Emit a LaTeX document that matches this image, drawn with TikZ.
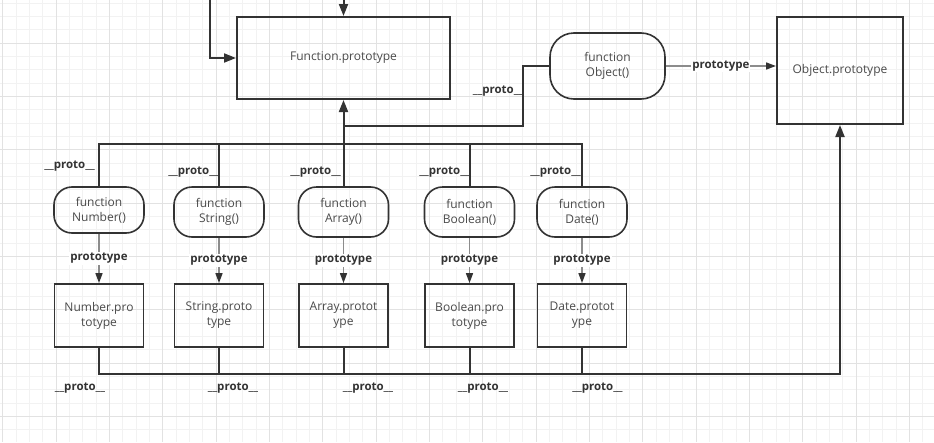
\documentclass[tikz,border=0pt]{standalone}
\usepackage{fontspec}
\setmainfont{Open Sans}
\usepackage{tikz}
\usetikzlibrary{arrows.meta,positioning}
\definecolor{linedark}{HTML}{333333}
\definecolor{linegray}{HTML}{8C8C8C}
\definecolor{textgray}{HTML}{4A4A4A}
\definecolor{gridminor}{HTML}{F2F2F2}
\definecolor{gridmajor}{HTML}{E2E2E2}

\begin{document}
\begin{tikzpicture}[x=1pt,y=-1pt]
        \tikzstyle{func node}=[draw=linedark,line width=1.6pt,rounded corners=18pt,minimum width=90pt,minimum height=50pt,align=center,text=textgray,font=\fontsize{12}{15}\selectfont,node distance=103.5pt]
        \tikzstyle{proto box}=[draw=linedark,line width=1.8pt,minimum width=89pt,minimum height=63pt,align=center,text=textgray,font=\fontsize{12}{15}\selectfont]
        \tikzstyle{big box}=[proto box,line width=2pt]
        \tikzstyle{edge label}=[fill=white,inner sep=1pt,text=linedark,font=\bfseries\fontsize{11.5}{14}\selectfont]
        \tikzstyle{thick line}=[draw=linedark,line width=2pt]
        \tikzstyle{thick arrow}=[thick line,-{Triangle[length=12pt,width=9pt]}]
        \tikzstyle{gray arrow}=[draw=linegray,line width=1.5pt,-{Triangle[length=10pt,width=7pt,color=linedark]}]

        \useasboundingbox (0,0) rectangle (934,442);
        % background and grid
        \begin{scope}
            \clip (0,0) rectangle (934,442);
            \fill[white] (0,0) rectangle (934,442);
            \foreach \gx in {0,...,70} \draw[gridminor,line width=0.8pt] ({2.67+13.333*\gx},0) -- ({2.67+13.333*\gx},442);
            \foreach \gy in {0,...,33} \draw[gridminor,line width=0.8pt] (0,{3.2+13.333*\gy}) -- (934,{3.2+13.333*\gy});
            \foreach \gx in {0,...,17} \draw[gridmajor,line width=0.8pt] ({2.67+53.333*\gx},0) -- ({2.67+53.333*\gx},442);
            \foreach \gy in {0,...,8} \draw[gridmajor,line width=0.8pt] (0,{43.2+53.333*\gy}) -- (934,{43.2+53.333*\gy});
        \end{scope}

        \node[big box,minimum width=213pt,minimum height=82pt] (FP) at (343.5,58) {Function.prototype};
        \node[func node,minimum width=115pt,minimum height=66pt,rounded corners=24pt] (Obj) at (607.5,66) {function\\Object()};
        \node[big box,minimum width=126pt,minimum height=107pt] (OP) at (840,70.5) {Object.prototype};

        \node[func node,minimum height=46pt] (Number) at (99,210) {function\\Number()};
        \node[func node] (String) at (219,212) {function\\String()};
        \node[func node] (Array) at (343.5,212) {function\\Array()};
        \node[func node] (Boolean) at (469.5,212) {function\\Boolean()};
        \node[func node] (Date) at (582,212) {function\\Date()};

        \node[proto box] (NumberP) [below of=Number,node distance=105.5pt] {Number.pro\\totype};
        \node[proto box] (StringP) [below of=String,node distance=103.5pt] {String.proto\\type};
        \node[proto box] (ArrayP) [below of=Array,node distance=103.5pt] {Array.protot\\ype};
        \node[proto box] (BooleanP) [below of=Boolean,node distance=103.5pt] {Boolean.pro\\totype};
        \node[proto box] (DateP) [below of=Date,node distance=103.5pt] {Date.protot\\ype};

        \coordinate (topin) at (343.5,0);
        \coordinate (leftin) at (210,0);
        \coordinate (objturn) at (523,125.7);
        \coordinate (topbus) at (0,143.7);
        \coordinate (botbus) at (0,373.7);

        \draw[thick arrow] (topin) -- (FP.north);
        \draw[thick arrow] (leftin) |- (FP.west);
        \draw[thick line] (Obj.west) -| (objturn) -- (objturn -| FP.south);
        \draw[gray arrow] (Obj.east) -- node[edge label] {prototype} (Obj.east -| OP.west);

        \draw[thick line] (Number.north) |- (topbus -| Date.north) -- (Date.north);
        \foreach \fn in {String,Boolean}
            \draw[thick line] (\fn.north) -- (\fn.north |- topbus);
        \draw[thick arrow] (Array.north) -- (FP.south);

        \foreach \fn in {Number,String,Array,Boolean,Date}
            \draw[gray arrow] (\fn.south) -- node[edge label] {prototype} (\fn P.north);

        \draw[thick arrow] (NumberP.south) |- (botbus -| OP.south) -- (OP.south);
        \foreach \fn in {String,Array,Boolean,Date}
            \draw[thick line] (\fn P.south) -- (\fn P.south |- botbus);

        % __proto__ labels
        \node[edge label,fill=none] (lObj) at (498,91) {\_\_proto\_\_};
        \node[edge label,fill=none,anchor=east] (lNumber) at (96,166) {\_\_proto\_\_};
        \node[edge label,fill=none,anchor=east] (lString) at (220,172) {\_\_proto\_\_};
        \node[edge label,fill=none,anchor=east] (lArray) at (342,172) {\_\_proto\_\_};
        \node[edge label,fill=none,anchor=east] (lBoolean) at (471,172) {\_\_proto\_\_};
        \node[edge label,fill=none,anchor=east] (lDate) at (582,172) {\_\_proto\_\_};
        \node[edge label,fill=none] (bNumber) at (80,388) {\_\_proto\_\_};
        \node[edge label,fill=none] (bString) at (233,388) {\_\_proto\_\_};
        \node[edge label,fill=none] (bArray) at (368,388) {\_\_proto\_\_};
        \node[edge label,fill=none] (bBoolean) at (483,388) {\_\_proto\_\_};
        \node[edge label,fill=none] (bDate) at (597.5,388) {\_\_proto\_\_};
    \end{tikzpicture}
\end{document}
